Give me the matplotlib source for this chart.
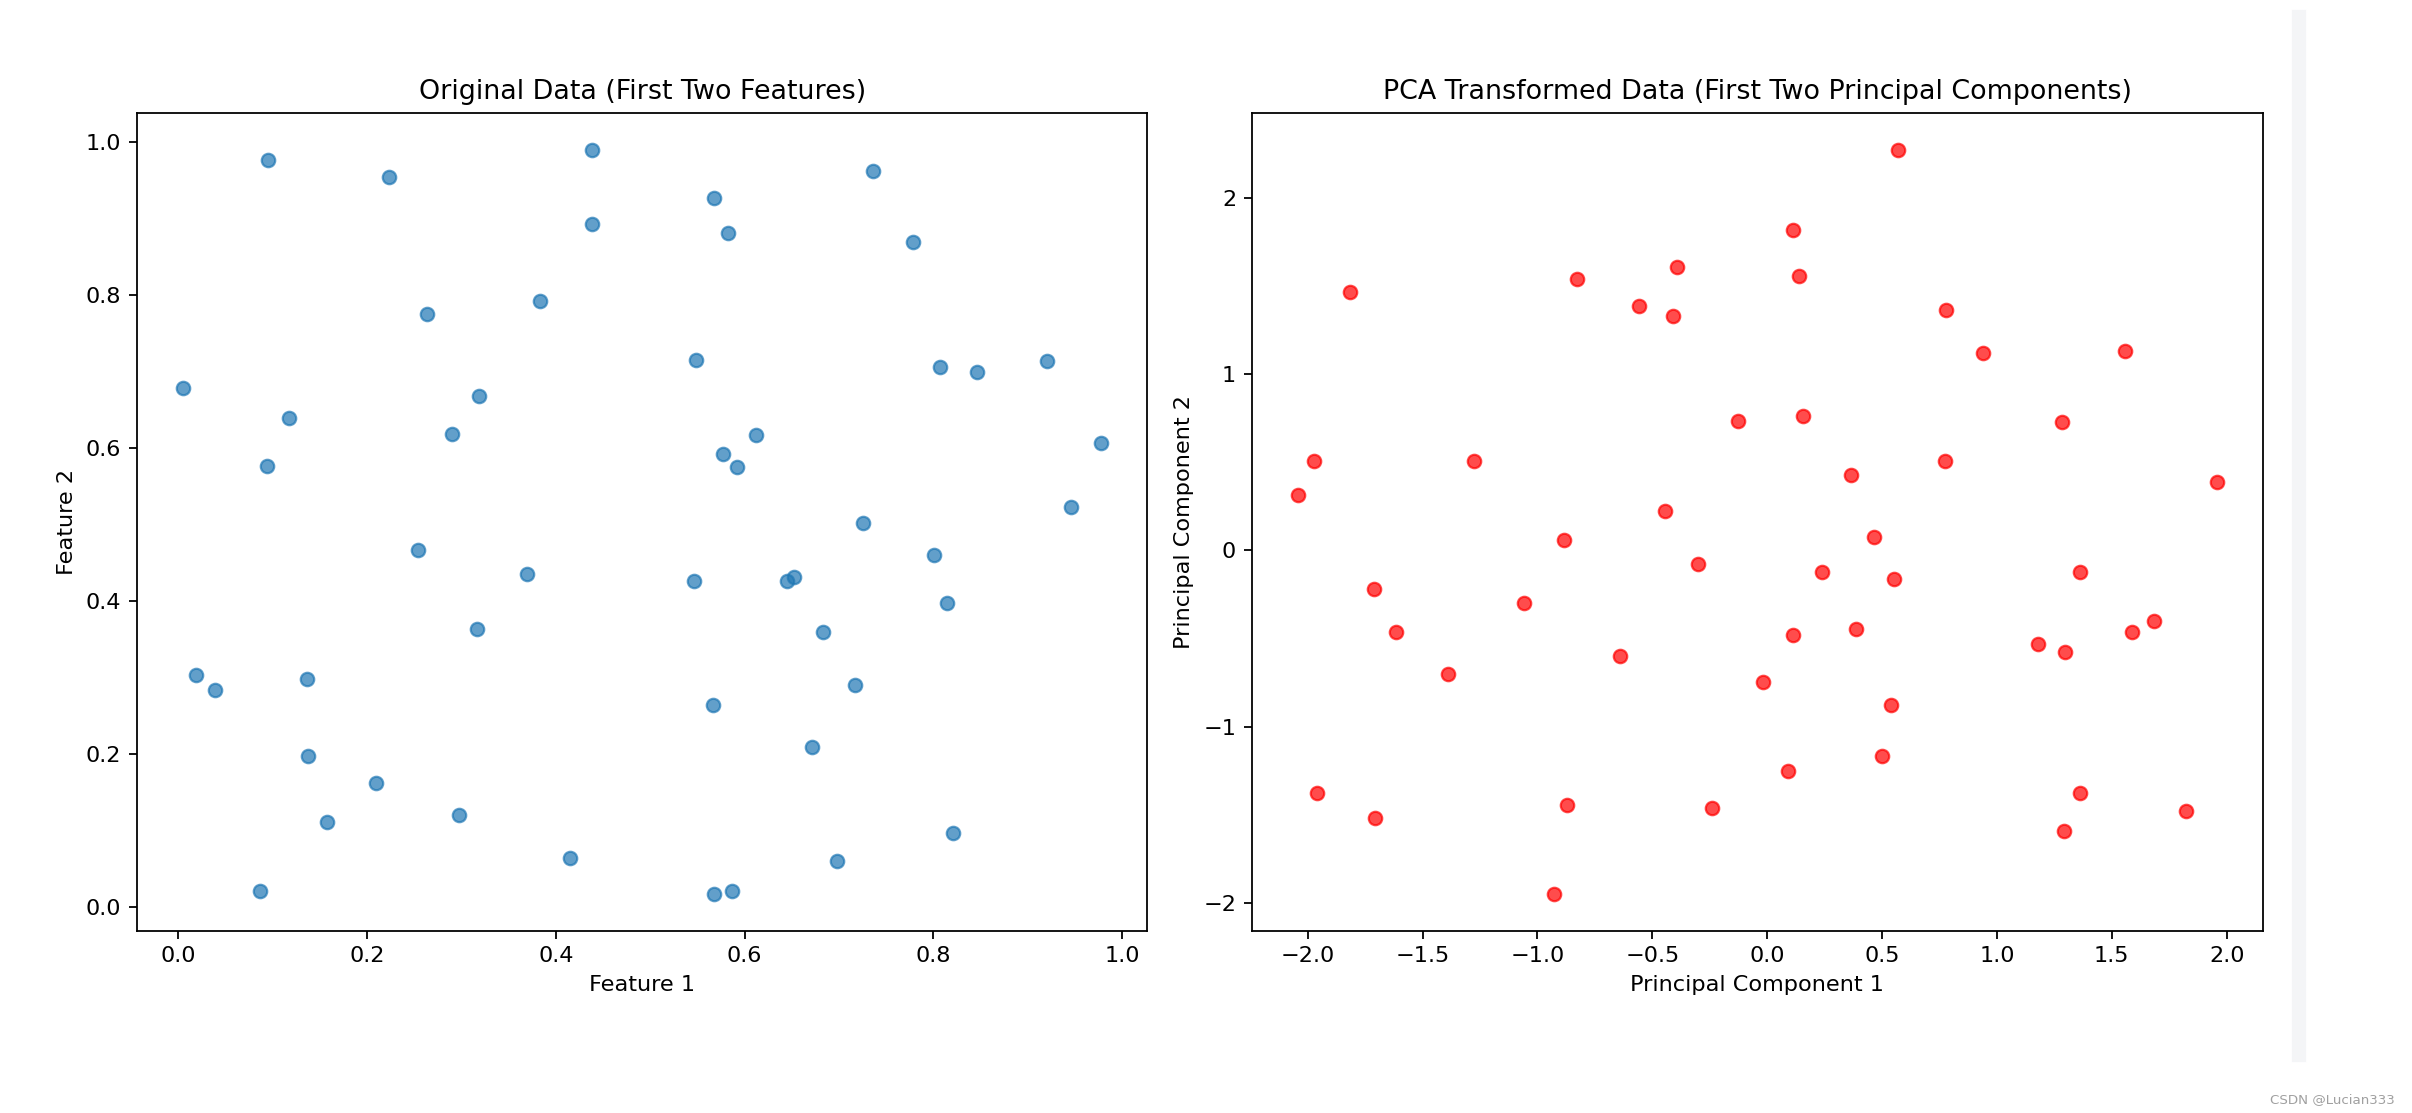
import matplotlib
matplotlib.use('Agg')
import matplotlib.pyplot as plt

# original data, first two features
feature_1 = [0.005, 0.095, 0.223, 0.438, 0.438, 0.264, 0.383, 0.319, 0.117,
             0.290, 0.094, 0.736, 0.568, 0.582, 0.778, 0.549, 0.807, 0.846,
             0.920, 0.978, 0.612, 0.577, 0.592, 0.946, 0.725, 0.254, 0.369,
             0.316, 0.019, 0.039, 0.136, 0.138, 0.210, 0.158, 0.297, 0.415,
             0.087, 0.801, 0.546, 0.645, 0.652, 0.814, 0.683, 0.717, 0.567,
             0.671, 0.821, 0.698, 0.568, 0.587]
feature_2 = [0.679, 0.977, 0.954, 0.990, 0.893, 0.775, 0.792, 0.668, 0.640,
             0.619, 0.577, 0.963, 0.927, 0.882, 0.870, 0.716, 0.706, 0.700,
             0.714, 0.607, 0.617, 0.592, 0.575, 0.523, 0.502, 0.467, 0.436,
             0.364, 0.303, 0.284, 0.299, 0.198, 0.162, 0.112, 0.120, 0.065,
             0.021, 0.461, 0.426, 0.426, 0.432, 0.398, 0.360, 0.291, 0.265,
             0.210, 0.097, 0.061, 0.018, 0.021]

# pca transformed data, first two components
pc_1 = [-1.817, -0.829, -0.393, -0.556, -0.408, -0.126, -1.972, -1.278, -2.043,
        -0.443, 0.568, 0.112, 0.140, 0.777, 0.939, 1.558, 0.155, 1.284, 0.773,
        0.365, 1.957, -0.885, -0.303, -1.713, -1.060, -1.616, -0.639, -1.390,
        -0.016, -1.959, -1.707, -0.872, -0.240, -0.928, 0.464, 0.238, 0.554,
        1.362, 0.112, 0.386, 1.178, 1.298, 1.586, 1.685, 0.539, 0.498, 0.091,
        1.362, 1.825, 1.292]
pc_2 = [1.468, 1.540, 1.605, 1.385, 1.330, 0.735, 0.508, 0.508, 0.315, 0.224,
        2.272, 1.817, 1.559, 1.366, 1.121, 1.130, 0.763, 0.727, 0.508, 0.425,
        0.389, 0.058, -0.078, -0.217, -0.300, -0.464, -0.600, -0.701, -0.748,
        -1.378, -1.516, -1.442, -1.459, -1.947, 0.077, -0.124, -0.162, -0.124,
        -0.481, -0.445, -0.529, -0.574, -0.462, -0.398, -0.875, -1.168, -1.251,
        -1.378, -1.478, -1.590]


def scatter(ax, x, y, color, xlabel, ylabel, title):
    """Draw one scatter panel"""
    ax.scatter(x, y, color=color, alpha=0.7)
    ax.set_xlabel(xlabel)
    ax.set_ylabel(ylabel)
    ax.set_title(title)


DPI = 161
fig = plt.figure(figsize=(2412 / DPI, 1113 / DPI), dpi=DPI)
ax1 = fig.add_axes([0.0568, 0.1638, 0.4189, 0.7349])
ax2 = fig.add_axes([0.5190, 0.1638, 0.4191, 0.7349])

scatter(ax1, feature_1, feature_2, 'C0', 'Feature 1', 'Feature 2',
        'Original Data (First Two Features)')
scatter(ax2, pc_1, pc_2, 'red', 'Principal Component 1',
        'Principal Component 2',
        'PCA Transformed Data (First Two Principal Components)')

# notebook scroll strip and watermark
fig.patches.append(plt.Rectangle((2293 / 2412, 52 / 1113), 12 / 2412,
                                 1050 / 1113, transform=fig.transFigure,
                                 color='#f4f5f7', zorder=0))
fig.text(0.993, 0.006, 'CSDN @Lucian333', ha='right', va='bottom',
         fontsize=6, color='#a0a0a0')

plt.savefig('out.png', dpi=DPI)
